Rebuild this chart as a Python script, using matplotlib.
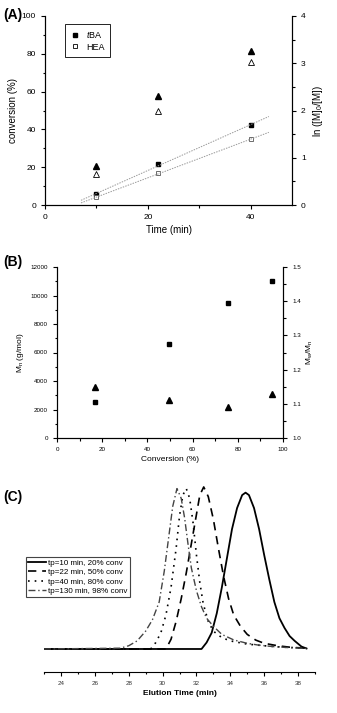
import numpy as np
import matplotlib
matplotlib.use("Agg")
import matplotlib.pyplot as plt
from matplotlib.lines import Line2D
from matplotlib.ticker import MultipleLocator

plt.rcParams['font.family'] = ['Liberation Sans', 'DejaVu Sans']
plt.rcParams['mathtext.fontset'] = 'custom'
plt.rcParams['mathtext.rm'] = 'Liberation Sans'
plt.rcParams['mathtext.it'] = 'Liberation Sans:italic'
plt.rcParams['mathtext.default'] = 'regular'

# ---- panel A: kinetics ----
time_min = [10, 22, 40]
conv_tba = [20.8, 57.8, 81.6]
conv_hea = [16.6, 49.6, 75.5]
ln_tba = [0.226, 0.86, 1.69]
ln_hea = [0.16, 0.67, 1.39]

# ---- panel B: Mn and PDI vs conversion ----
conv_b = [17, 49.5, 75.5, 95]
mn_b = [2500, 6600, 9500, 11000]
pdi_b = [1.15, 1.11, 1.09, 1.13]

# ---- panel C: GPC traces ----
t_10 = [23.0, 32.3, 32.6, 32.9, 33.2, 33.5, 33.8, 34.1, 34.4, 34.7, 34.9, 35.1,
        35.4, 35.7, 36.0, 36.3, 36.6, 36.9, 37.2, 37.5, 37.8, 38.2, 38.5]
i_10 = [0, 0, 0.04, 0.10, 0.22, 0.38, 0.56, 0.74, 0.87, 0.95, 0.965, 0.95,
        0.87, 0.74, 0.58, 0.43, 0.29, 0.19, 0.13, 0.08, 0.05, 0.015, 0.003]
t_22 = [23.0, 30.2, 30.5, 30.8, 31.1, 31.4, 31.7, 32.0, 32.2, 32.43, 32.7, 33.0,
        33.3, 33.6, 33.9, 34.2, 34.6, 35.0, 35.5, 36.0, 36.8, 37.6, 38.5]
i_22 = [0, 0, 0.06, 0.17, 0.31, 0.47, 0.65, 0.83, 0.95, 1.0, 0.94, 0.80,
        0.62, 0.45, 0.31, 0.21, 0.14, 0.09, 0.055, 0.035, 0.02, 0.01, 0.005]
t_40 = [23.0, 29.3, 29.6, 29.9, 30.2, 30.5, 30.8, 31.0, 31.2, 31.4, 31.6, 31.8,
        32.0, 32.2, 32.4, 32.7, 33.0, 33.5, 34.0, 35.0, 36.0, 37.0, 38.5]
i_40 = [0, 0, 0.04, 0.10, 0.21, 0.38, 0.62, 0.82, 0.95, 0.99, 0.93, 0.78,
        0.58, 0.41, 0.28, 0.17, 0.11, 0.07, 0.05, 0.03, 0.02, 0.012, 0.005]
t_130 = [23.0, 27.5, 28.0, 28.5, 29.0, 29.4, 29.8, 30.1, 30.4, 30.6, 30.85, 31.1,
         31.3, 31.5, 31.7, 32.0, 32.3, 32.6, 33.0, 33.5, 34.2, 35.0, 35.6, 36.5,
         37.5, 38.5]
i_130 = [0, 0.005, 0.02, 0.05, 0.11, 0.18, 0.29, 0.48, 0.72, 0.88, 0.99, 0.93,
         0.81, 0.65, 0.50, 0.36, 0.26, 0.19, 0.14, 0.09, 0.056, 0.035, 0.025, 0.015,
         0.008, 0.004]
gpc_labels = ['tp=10 min, 20% conv', 'tp=22 min, 50% conv',
              'tp=40 min, 80% conv', 'tp=130 min, 98% conv']

W, H = 337, 713
fig = plt.figure(figsize=(W / 100, H / 100), dpi=100)


def px_axes(l, r, t, b):
    return fig.add_axes([l / W, (H - b) / H, (r - l) / W, (b - t) / H])


def style(ax, fs):
    ax.spines['top'].set_visible(False)
    ax.tick_params(which='both', direction='out', labelsize=fs, width=0.8)
    ax.tick_params(which='major', length=3)
    ax.tick_params(which='minor', length=1.8)


# panel A
axA = px_axes(45, 292, 16, 205)
axA2 = axA.twinx()
axA.plot(time_min, conv_tba, '^', color='black', ms=4.5)
axA.plot(time_min, conv_hea, '^', mfc='white', mec='black', mew=0.6, ms=4.5)
axA2.plot(time_min, ln_tba, 's', color='black', ms=3.5)
axA2.plot(time_min, ln_hea, 's', mfc='white', mec='#555555', mew=0.6, ms=3.5)
tfit = np.array([7, 43.5])
for ys in (ln_tba, ln_hea):
    k, c = np.polyfit(time_min, ys, 1)
    axA2.plot(tfit, k * tfit + c, ls=(0, (1.5, 1.2)), color='#999999', lw=0.7)
axA.set_xlim(0, 48)
axA.set_ylim(0, 100)
axA2.set_ylim(0, 4)
axA.xaxis.set_major_locator(MultipleLocator(20))
axA.xaxis.set_minor_locator(MultipleLocator(10))
axA.yaxis.set_major_locator(MultipleLocator(20))
axA.yaxis.set_minor_locator(MultipleLocator(10))
axA2.yaxis.set_major_locator(MultipleLocator(1))
axA2.yaxis.set_minor_locator(MultipleLocator(0.5))
for a in (axA, axA2):
    style(a, 6)
axA.set_xlabel('Time (min)', fontsize=7, labelpad=3)
axA.set_ylabel('conversion (%)', fontsize=7, labelpad=3)
axA2.set_ylabel('ln ([M]$_0$/[M])', fontsize=7, labelpad=4)
hA = [Line2D([], [], ls='none', marker='s', color='black', ms=3.5),
      Line2D([], [], ls='none', marker='s', mfc='white', mec='black', mew=0.6, ms=3.5)]
axA.legend(hA, [r'$\mathit{t}$BA', 'HEA'], loc='upper left', fontsize=6.5,
           bbox_to_anchor=(60 / W, (H - 19) / H), bbox_transform=fig.transFigure,
           fancybox=False, edgecolor='black', framealpha=1, borderpad=0.6,
           handlelength=1.2, handletextpad=0.6, labelspacing=0.3).get_frame().set_linewidth(0.6)

# panel B
axB = px_axes(57, 283, 267, 438)
axB2 = axB.twinx()
axB.plot(conv_b, mn_b, 's', color='black', ms=3.5)
axB2.plot(conv_b, pdi_b, '^', color='black', ms=4)
axB.set_xlim(0, 100)
axB.set_ylim(0, 12000)
axB2.set_ylim(1.0, 1.5)
axB.xaxis.set_major_locator(MultipleLocator(20))
axB.xaxis.set_minor_locator(MultipleLocator(10))
axB.yaxis.set_major_locator(MultipleLocator(2000))
axB.yaxis.set_minor_locator(MultipleLocator(1000))
axB2.yaxis.set_major_locator(MultipleLocator(0.1))
axB2.yaxis.set_minor_locator(MultipleLocator(0.05))
for a in (axB, axB2):
    style(a, 4.5)
axB.set_xlabel('Conversion (%)', fontsize=6, labelpad=3)
axB.set_ylabel('M$_n$ (g/mol)', fontsize=6, labelpad=3)
axB2.set_ylabel('M$_w$/M$_n$', fontsize=6, labelpad=3)

# panel C
axC = px_axes(44, 315, 480, 672)
axC.plot(t_10, i_10, color='black', lw=1.3, label=gpc_labels[0])
axC.plot(t_22, i_22, color='black', lw=1.2, ls=(0, (5, 3.5)), label=gpc_labels[1])
axC.plot(t_40, i_40, color='black', lw=1.2, ls=(0, (1, 3)), label=gpc_labels[2])
axC.plot(t_130, i_130, color='#444444', lw=1.0, ls=(0, (5, 2, 1, 2)), label=gpc_labels[3])
axC.set_xlim(23, 39)
axC.set_ylim(-0.142, 1.043)
for s in ('top', 'left', 'right'):
    axC.spines[s].set_visible(False)
axC.set_yticks([])
axC.xaxis.set_major_locator(MultipleLocator(2))
axC.xaxis.set_minor_locator(MultipleLocator(1))
axC.tick_params(which='both', direction='out', labelsize=4.5, width=0.8, labelcolor='#333333')
axC.tick_params(which='major', length=3)
axC.tick_params(which='minor', length=1.5)
axC.set_xlabel('Elution Time (min)', fontsize=6, fontweight='bold', labelpad=3)
legC = axC.legend(loc='upper left', fontsize=5.8,
                  bbox_to_anchor=(26 / W, (H - 557) / H), bbox_transform=fig.transFigure,
                  fancybox=False, edgecolor='#444444', framealpha=1, borderpad=0.3,
                  handlelength=2.2, handletextpad=0.2, labelspacing=0.2, borderaxespad=0)
legC.get_frame().set_linewidth(0.8)

for txt, yc in (('(A)', 15), ('(B)', 262), ('(C)', 497)):
    fig.text(3 / W, (H - yc) / H, txt, fontsize=10, fontweight='bold', va='center', ha='left')

fig.savefig('out.png', dpi=100)
